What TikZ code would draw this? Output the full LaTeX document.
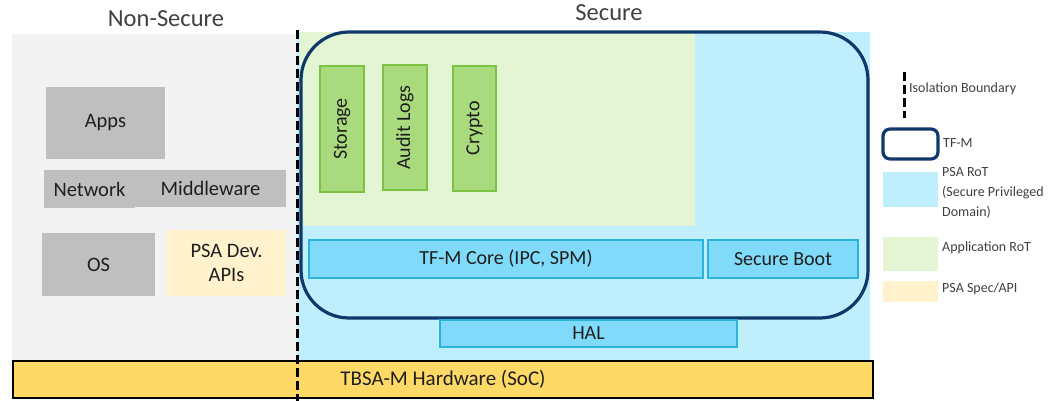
\documentclass[tikz,border=0pt]{standalone}
\usepackage{fontspec}
\usepackage{graphicx}
\setmainfont{Carlito}
\definecolor{nsbg}{HTML}{F2F2F2}
\definecolor{secbg}{HTML}{BFEFFC}
\definecolor{appbg}{HTML}{E3F5D3}
\definecolor{boxgrey}{HTML}{BFBFBF}
\definecolor{psayel}{HTML}{FFF2CC}
\definecolor{hwyel}{HTML}{FFD966}
\definecolor{gfill}{HTML}{A9DA7E}
\definecolor{gborder}{HTML}{7DC242}
\definecolor{bfill}{HTML}{7FDBF9}
\definecolor{bborder}{HTML}{2DB3DA}
\definecolor{navy}{HTML}{10386A}
\definecolor{txt}{HTML}{1F1F1F}
\definecolor{ttl}{HTML}{404040}
\tikzset{
  greybox/.style={fill=boxgrey, inner sep=0pt, text=txt, font=\fontsize{20.5}{23.5}\selectfont},
  yelbox/.style={fill=psayel, inner sep=0pt, text=txt, align=center, font=\fontsize{20.5}{23.5}\selectfont},
  appbox/.style={fill=gfill, draw=gborder, line width=2.5pt, inner sep=0pt, text=txt, font=\fontsize{20}{23}\selectfont},
  rotbox/.style={fill=bfill, draw=bborder, line width=2pt, inner sep=0pt, text=txt, font=\fontsize{20}{23}\selectfont},
  hwbox/.style={fill=hwyel, draw=black, line width=2pt, inner sep=0pt, text=txt, font=\fontsize{21}{24}\selectfont},
  title/.style={inner sep=0pt, text=ttl, font=\fontsize{24.5}{28}\selectfont},
  legtext/.style={inner sep=0pt, text=ttl, anchor=west, align=left, font=\fontsize{14}{20}\selectfont},
  isoline/.style={draw=black, line width=3pt, dash pattern=on 9pt off 4pt},
  tfmline/.style={draw=navy, line width=3.2pt},
}
\begin{document}
\begin{tikzpicture}[x=1pt,y=-1pt]
\useasboundingbox (0,0) rectangle (1050,401);
% backgrounds
\fill[nsbg] (12,34) rectangle (297,362);
\fill[secbg] (297,32) rectangle (870,362);
\fill[appbg] (300,32) rectangle (695,226);
% titles
\node[title] (nstitle) at (166,19) {Non-Secure};
\node[title] (stitle) at (609,13) {Secure};
% non-secure boxes
\node[greybox, minimum width=119pt, minimum height=72pt] (apps) at (105.5,123) {Apps};
\node[greybox, minimum width=91pt, minimum height=38pt] (network) at (89.5,189) {Network};
\node[greybox, minimum width=151pt, minimum height=37pt] (middleware) at (210.5,188.5) {Middleware};
\node[greybox, minimum width=113pt, minimum height=63pt] (os) at (98.5,264.5) {OS};
\node[yelbox, minimum width=119pt, minimum height=66pt] (psaapi) at (226.5,263) {PSA Dev.\\APIs};
% TF-M
\draw[tfmline, rounded corners=48pt] (301,32) rectangle (868,318);
\node[appbox, minimum width=44pt, minimum height=126pt] (storage) at (342,129) {\rotatebox{90}{Storage}};
\node[appbox, minimum width=44pt, minimum height=125pt] (audit) at (405,127.5) {\rotatebox{90}{Audit Logs}};
\node[appbox, minimum width=43pt, minimum height=125pt] (crypto) at (474.5,128.5) {\rotatebox{90}{Crypto}};
\node[rotbox, minimum width=394pt, minimum height=38pt] (core) at (506,259) {TF-M Core (IPC, SPM)};
\node[rotbox, minimum width=150pt, minimum height=38pt] (boot) at (783,259) {Secure Boot};
\node[rotbox, minimum width=297pt, minimum height=27pt] (hal) at (588.5,333.5) {HAL};
\node[hwbox, minimum width=860pt, minimum height=37pt] (hw) at (443,379.5) {TBSA-M Hardware (SoC)};
% isolation boundary
\coordinate (isotop) at (297,30);
\coordinate (isobot) at (297,401);
\draw[isoline] (isotop) -- (isobot);
% legend
\coordinate (legisotop) at (904,72);
\coordinate (legisobot) at (904,118);
\draw[isoline] (legisotop) -- (legisobot);
\node[legtext] (legiso) at (909,89) {Isolation Boundary};
\draw[tfmline, rounded corners=7pt] (883,129) rectangle (938,159);
\node[legtext] (legtfm) at (943,143) {TF-M};
\fill[secbg] (883,172) rectangle (938,207);
\node[legtext] (legpsa) at (942,193) {PSA RoT\\(Secure Privileged\\Domain)};
\fill[appbg] (883,237) rectangle (938,271);
\node[legtext] (legapp) at (942,248) {Application RoT};
\fill[psayel] (883,281) rectangle (938,302);
\node[legtext] (legspec) at (942,289) {PSA Spec/API};
\end{tikzpicture}
\end{document}
